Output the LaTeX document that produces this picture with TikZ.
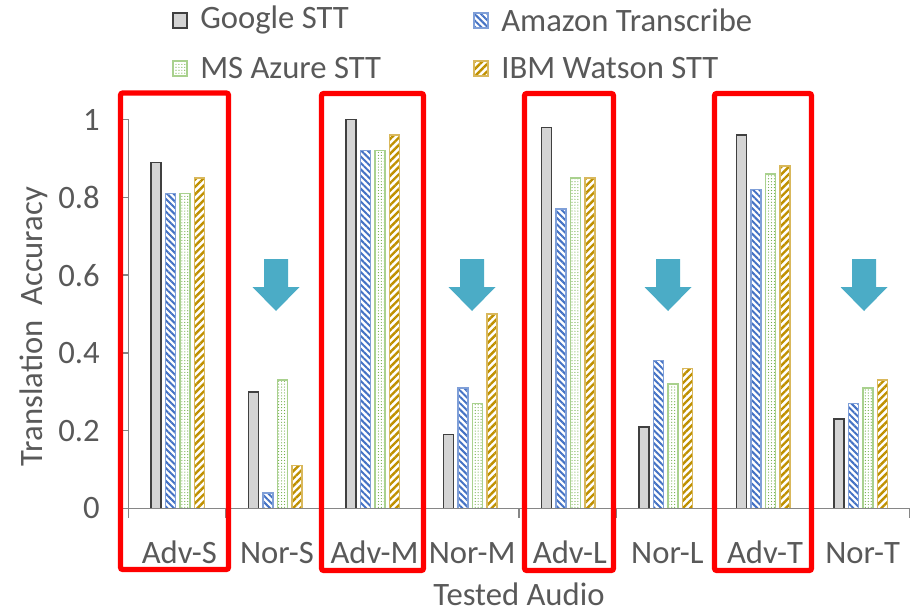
\documentclass[tikz,border=0pt]{standalone}
\usepackage{fontspec}
\setmainfont{Carlito}
\usetikzlibrary{patterns.meta}
\definecolor{txt}{HTML}{595959}
\definecolor{axisgray}{HTML}{868686}
\definecolor{gfill}{HTML}{D4D4D4}
\definecolor{gline}{HTML}{404040}
\definecolor{ablue}{HTML}{4472C4}
\definecolor{ablueline}{HTML}{7F9FD8}
\definecolor{mgreen}{HTML}{70AD47}
\definecolor{mgreenline}{HTML}{A9D18E}
\definecolor{iorange}{HTML}{BF9000}
\definecolor{iorangeline}{HTML}{D9B85C}
\definecolor{arrowteal}{HTML}{4BACC6}
\tikzset{
  lbl/.style={text=txt,font=\fontsize{24.5}{28}\selectfont,inner sep=0pt},
  leg/.style={text=txt,font=\fontsize{24.5}{28}\selectfont,inner sep=0pt,anchor=west},
  axisline/.style={draw=axisgray,line width=1pt},
  googlebar/.style={fill=gfill,draw=gline,line width=1.1pt},
  amazonbar/.style={pattern={Lines[angle=-45,distance=3.4pt,line width=1.5pt]},pattern color=ablue,draw=ablueline,line width=1.1pt},
  azurebar/.style={pattern={Dots[radius=0.45pt,distance=2.2pt]},pattern color=mgreen,draw=mgreenline,line width=1.1pt},
  ibmbar/.style={pattern={Lines[angle=45,distance=3.9pt,line width=1.8pt]},pattern color=iorange,draw=iorangeline,line width=1.1pt},
  redbox/.style={draw=red,line width=3.8pt,rounded corners=1.5pt},
  downarrow/.style={fill=arrowteal,draw=none}
}
\begin{document}
\begin{tikzpicture}[x=0.75pt,y=-0.75pt]
\useasboundingbox (0,0) rectangle (912,610);

% legend
\path[googlebar] (173,13) rectangle (187,28);
\node[leg] (lg) at (200,20) {Google STT};
\path[amazonbar] (474,13) rectangle (488,28);
\node[leg] (la) at (501,20) {Amazon Transcribe};
\path[azurebar] (173,61) rectangle (187,76);
\node[leg] (lm) at (200,68) {MS Azure STT};
\path[ibmbar] (474,61) rectangle (488,76);
\node[leg] (li) at (501,68) {IBM Watson STT};

% bars: category index / Google / Amazon / Azure / IBM
\foreach \k/\a/\b/\c/\d in {0/0.89/0.81/0.81/0.85, 1/0.30/0.04/0.33/0.11,
                           2/1.00/0.92/0.92/0.96, 3/0.19/0.31/0.27/0.50,
                           4/0.98/0.77/0.85/0.85, 5/0.21/0.38/0.32/0.36,
                           6/0.96/0.82/0.86/0.88, 7/0.23/0.27/0.31/0.33}{
  \pgfmathsetmacro{\cx}{128.5+97.625*(\k+0.5)}
  \path[googlebar] ({\cx-26.5},508.5) rectangle ({\cx-16.5},{508.5-389*\a});
  \path[amazonbar] ({\cx-12},508.5) rectangle ({\cx-2},{508.5-389*\b});
  \path[azurebar] ({\cx+2.5},508.5) rectangle ({\cx+12.5},{508.5-389*\c});
  \path[ibmbar] ({\cx+17},508.5) rectangle ({\cx+27},{508.5-389*\d});
}

% axes
\draw[axisline] (128.5,119.5) -- (128.5,508.5) -- (909.5,508.5);
\foreach \v in {0,0.2,0.4,0.6,0.8,1}{
  \draw[axisline] (122,{508.5-389*\v}) -- (128.5,{508.5-389*\v});
}
\foreach \k in {0,...,8}{
  \draw[axisline] ({128.5+97.625*\k},508.5) -- ({128.5+97.625*\k},518);
}

% tick labels
\node[lbl,anchor=east] (t0) at (100,508.5) {0};
\node[lbl,anchor=east] (t2) at (100,430.7) {0.2};
\node[lbl,anchor=east] (t4) at (100,352.9) {0.4};
\node[lbl,anchor=east] (t6) at (100,275.1) {0.6};
\node[lbl,anchor=east] (t8) at (100,197.3) {0.8};
\node[lbl,anchor=east] (t10) at (100,119.5) {1};

% category labels
\foreach \k/\t in {0/Adv-S,1/Nor-S,2/Adv-M,3/Nor-M,4/Adv-L,5/Nor-L,6/Adv-T,7/Nor-T}{
  \node[lbl,anchor=base] (c\k) at ({128.5+97.625*(\k+0.5)+2},563) {\t};
}

% axis titles
\node[lbl,anchor=base] (xt) at (519,605) {Tested Audio};
\node[lbl,anchor=base,rotate=90] (yt) at (42,326.5) {Translation\ \ Accuracy};

% arrows over the normal-audio groups
\foreach \ax in {276,472,668,864}{
  \path[downarrow] ({\ax-12},259) -- ({\ax+12},259) -- ({\ax+12},287) -- ({\ax+23.5},287)
     -- (\ax,311) -- ({\ax-23.5},287) -- ({\ax-12},287) -- cycle;
}

% highlighted adversarial groups
\draw[redbox] (120.5,93) rectangle (228.5,569.5);
\draw[redbox] (321.5,93.5) rectangle (423.5,570.5);
\draw[redbox] (524.5,93.5) rectangle (613.5,570.5);
\draw[redbox] (714.5,93.5) rectangle (811.5,570.5);
\end{tikzpicture}
\end{document}
